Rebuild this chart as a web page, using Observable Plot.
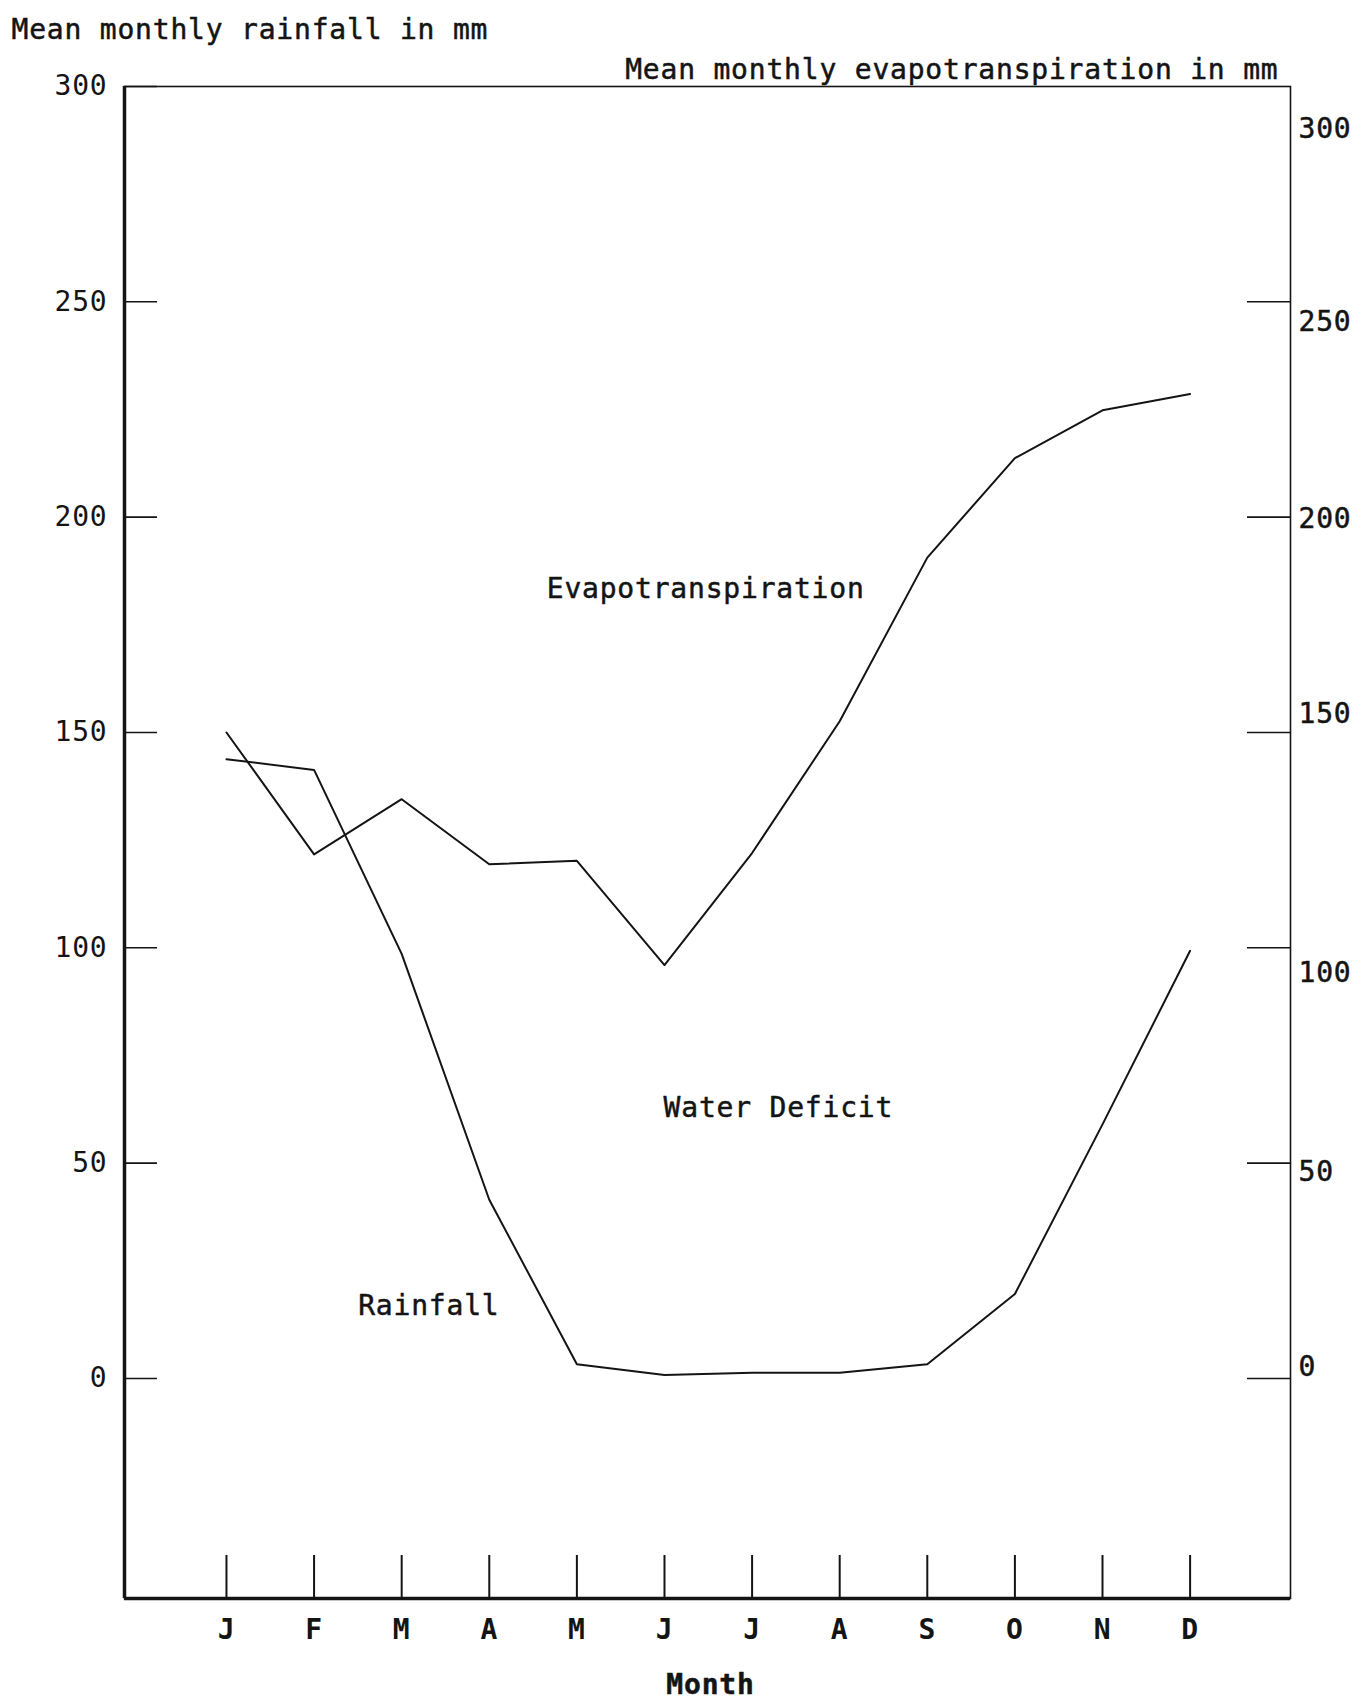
<!DOCTYPE html>
<html>
<head>
<meta charset="utf-8">
<script src="https://cdn.jsdelivr.net/npm/d3@7"></script>
<script src="https://cdn.jsdelivr.net/npm/@observablehq/plot@0.6"></script>
<style>
  html, body { margin: 0; padding: 0; background: #fff; }
</style>
</head>
<body>
<div id="chart"></div>
<script>
// ---- Data ----
const months = ["J", "F", "M", "A", "M", "J", "J", "A", "S", "O", "N", "D"];
const evapotranspiration = [150, 121.7, 134.5, 119.4, 120.2, 96, 122, 152.6, 190.6, 213.7, 224.8, 228.6];
const rainfall = [143.8, 141.3, 98.6, 41.5, 3.3, 0.8, 1.3, 1.3, 3.3, 19.6, 59, 99.3];
const yTicks = [0, 50, 100, 150, 200, 250, 300];
// right-hand tick labels sit slightly off their ticks in the original
const rightLabelAt = [2.7, 48.0, 94.1, 154.3, 199.6, 245.2, 290.2];
const annotationLabels = ["Evapotranspiration", "Water Deficit", "Rainfall"];
const annotationMonth = [5.47, 6.30, 2.31];
const annotationValue = [183.4, 62.9, 16.7];
const leftTitle = "Mean monthly rainfall in mm";
const rightTitle = "Mean monthly evapotranspiration in mm";
const xTitle = "Month";

// ---- Tables built from the arrays ----
const etData = months.map((m, i) => ({i, v: evapotranspiration[i]}));
const rfData = months.map((m, i) => ({i, v: rainfall[i]}));
const annotations = annotationLabels.map((t, k) => ({t, x: annotationMonth[k], y: annotationValue[k]}));
const rightLabels = yTicks.map((t, k) => ({t: String(t), y: rightLabelAt[k]}));
const monthIdx = d3.range(months.length);

// ---- Layout ----
const W = 1361, H = 1700;
const mL = 124, mR = 71, mT = 86, mB = 102;
const plotW = W - mL - mR, plotH = H - mT - mB;
const xDomain = [-1.164, 12.146];
const yDomain = [-51.1, 300];
const ink = "#141414";
const txt = {fill: ink, stroke: ink, strokeWidth: 0.5};

const chart = Plot.plot({
  width: W,
  height: H,
  marginLeft: mL,
  marginRight: mR,
  marginTop: mT,
  marginBottom: mB,
  style: {
    fontFamily: "'DejaVu Sans Mono', 'Liberation Mono', monospace",
    fontSize: "28px",
    letterSpacing: "0.8px",
    color: ink,
    background: "#fff"
  },
  x: {type: "linear", domain: xDomain, nice: false},
  y: {type: "linear", domain: yDomain, nice: false},
  marks: [
    // frame
    Plot.frame({stroke: ink, strokeWidth: 1.6}),
    Plot.ruleX([xDomain[0]], {stroke: ink, strokeWidth: 3.5}),
    Plot.ruleY([yDomain[0]], {stroke: ink, strokeWidth: 3.5}),
    // inward ticks
    Plot.tickY(yTicks, {y: d => d, insetRight: plotW - 33, stroke: ink, strokeWidth: 1.6}),
    Plot.tickY(yTicks.filter(d => d < 300), {y: d => d, insetLeft: plotW - 43, stroke: ink, strokeWidth: 1.6}),
    Plot.tickX(monthIdx, {x: d => d, insetTop: plotH - 43, stroke: ink, strokeWidth: 2}),
    // axes labels
    Plot.axisY({anchor: "left", ticks: yTicks, tickSize: 0, tickPadding: 17, label: null, ...txt}),
    Plot.text(rightLabels, {y: "y", text: "t", frameAnchor: "right", textAnchor: "start", dx: 8, ...txt}),
    Plot.axisX({anchor: "bottom", ticks: monthIdx, tickFormat: i => months[i], tickSize: 0, tickPadding: 21, label: null, fontWeight: "bold", ...txt}),
    // data lines
    Plot.line(etData, {x: "i", y: "v", stroke: ink, strokeWidth: 2}),
    Plot.line(rfData, {x: "i", y: "v", stroke: ink, strokeWidth: 2}),
    // annotations
    Plot.text(annotations, {x: "x", y: "y", text: "t", ...txt}),
    // titles
    Plot.text([leftTitle], {text: d => d, frameAnchor: "top-left", textAnchor: "start", dx: -113, dy: -67, ...txt}),
    Plot.text([rightTitle], {text: d => d, frameAnchor: "top-right", textAnchor: "end", dx: -12, dy: -27, ...txt}),
    Plot.text([xTitle], {text: d => d, frameAnchor: "bottom", dx: 3, dy: 95, fontWeight: "bold", ...txt})
  ]
});
document.getElementById("chart").appendChild(chart);
</script>
</body>
</html>
